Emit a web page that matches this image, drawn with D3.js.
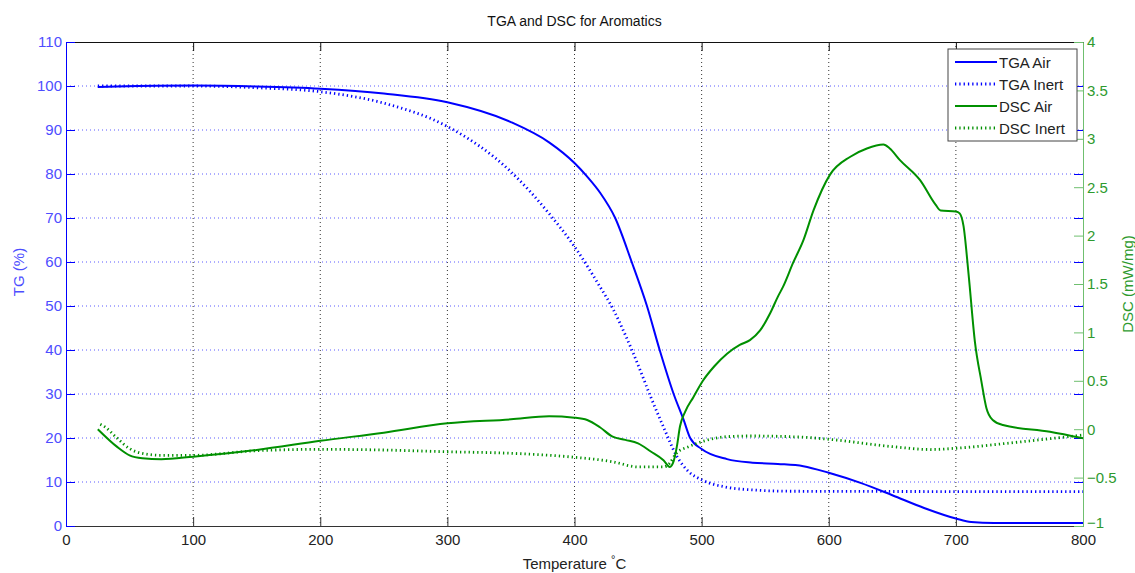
<!DOCTYPE html>
<html>
<head>
<meta charset="utf-8">
<script src="https://cdnjs.cloudflare.com/ajax/libs/d3/7.8.5/d3.min.js"></script>
<style>
  body { margin: 0; background: #fff; }
  svg text { font-family: "Liberation Sans", Arial, sans-serif; }
</style>
</head>
<body>
<div id="chart"></div>
<script>
// data (temperature in C)
var tgaAirT = [25, 40, 100, 150, 200, 250, 300, 350, 380, 400, 410, 420, 432, 445, 457, 467, 478, 486, 491, 500, 520, 540, 560, 580, 600, 625, 650, 675, 700, 712, 730, 800];
var tgaAirV = [99.8, 99.9, 100.1, 99.9, 99.4, 98.3, 96.3, 91.8, 87.2, 82.5, 79.4, 75.8, 70, 60, 50, 40, 30, 24, 20, 17.5, 15.2, 14.4, 14.1, 13.6, 12.1, 9.8, 7.0, 4.1, 1.7, 0.9, 0.7, 0.7];

var tgaInertT = [25, 100, 150, 200, 250, 300, 350, 380, 400, 420, 430, 440, 450, 460, 470, 480, 490, 500, 520, 540, 570, 800];
var tgaInertV = [100, 100, 99.6, 98.7, 96.1, 90.8, 80.5, 71, 63.5, 54.4, 49.5, 43.4, 36.6, 29.3, 22.5, 16.1, 12.3, 10.5, 8.8, 8.2, 7.9, 7.8];

var dscAirT = [25, 40, 50, 60, 75, 100, 150, 200, 250, 300, 350, 380, 400, 410, 420, 430, 440, 450, 460, 470, 475, 478, 480.5, 483, 487, 493.5, 501, 510, 520, 530, 538, 546, 554, 560, 564, 572, 580, 588, 601, 617, 630, 643, 648, 656, 672, 684, 688, 700, 703, 706, 710, 715, 720, 724, 729, 737, 774, 800];
var dscAirV = [0.0, -0.18, -0.27, -0.30, -0.31, -0.284, -0.215, -0.12, -0.036, 0.061, 0.102, 0.133, 0.119, 0.095, 0.02, -0.077, -0.11, -0.146, -0.23, -0.32, -0.39, -0.33, -0.18, 0.03, 0.18, 0.33, 0.5, 0.65, 0.78, 0.87, 0.92, 1.02, 1.2, 1.37, 1.47, 1.72, 1.95, 2.26, 2.63, 2.815, 2.9, 2.94, 2.9, 2.78, 2.57, 2.32, 2.26, 2.25, 2.23, 2.1, 1.6, 0.9, 0.5, 0.22, 0.095, 0.043, -0.026, -0.094];

var dscInertT = [27, 31, 40, 50, 60, 75, 100, 150, 200, 250, 300, 350, 400, 430, 450, 470, 475, 480, 490, 500, 520, 540, 580, 600, 650, 680, 700, 740, 770, 800];
var dscInertV = [0.05, 0.02, -0.09, -0.2, -0.25, -0.27, -0.27, -0.222, -0.208, -0.215, -0.233, -0.249, -0.29, -0.336, -0.39, -0.39, -0.35, -0.25, -0.18, -0.13, -0.077, -0.07, -0.083, -0.104, -0.18, -0.21, -0.197, -0.146, -0.104, -0.06];

var xTicks = [0, 100, 200, 300, 400, 500, 600, 700, 800];
var yLeftTicks = [0, 10, 20, 30, 40, 50, 60, 70, 80, 90, 100, 110];
var yRightTicks = [-1, -0.5, 0, 0.5, 1, 1.5, 2, 2.5, 3, 3.5, 4];
var legendNames = ["TGA Air", "TGA Inert", "DSC Air", "DSC Inert"];

var W = 1135, H = 573,
    m = { top: 42, right: 52, bottom: 47, left: 66 },
    iw = W - m.left - m.right,
    ih = H - m.top - m.bottom,
    blue = "#0000ff", green = "#009000",
    blueTxt = "#4d4dff", greenTxt = "#2e9a2e", greenAxis = "#6fbf6f",
    tickLen = 9;

var x = d3.scaleLinear().domain([0, 800]).range([0, iw]);
var yL = d3.scaleLinear().domain([0, 110]).range([ih, 0]);
var yR = d3.scaleLinear().domain([-1, 4]).range([ih, 0]);

var svg = d3.select("#chart").append("svg")
    .attr("width", W).attr("height", H);
var g = svg.append("g").attr("transform", "translate(" + m.left + "," + m.top + ")");

// grid
g.selectAll(".vgrid").data(xTicks.slice(1, -1)).enter().append("line")
    .attr("x1", function (d) { return x(d); }).attr("x2", function (d) { return x(d); })
    .attr("y1", 0).attr("y2", ih)
    .attr("stroke", "#333").attr("stroke-width", 1).attr("stroke-dasharray", "1,3");
g.selectAll(".hgrid").data(yLeftTicks.slice(1, -1)).enter().append("line")
    .attr("x1", 0).attr("x2", iw)
    .attr("y1", function (d) { return yL(d); }).attr("y2", function (d) { return yL(d); })
    .attr("stroke", "#5a5aff").attr("stroke-width", 1).attr("stroke-dasharray", "1,3");

// axes
var xAxis = g.append("g").attr("transform", "translate(0," + ih + ")")
    .call(d3.axisBottom(x).tickValues(xTicks).tickSize(-tickLen).tickPadding(8).tickFormat(d3.format("d")));
xAxis.select(".domain").attr("stroke", "#333");
xAxis.selectAll(".tick line").attr("stroke", "#333");
xAxis.selectAll("text").attr("fill", "#222").style("font-size", "15px");

var xTop = g.append("g")
    .call(d3.axisTop(x).tickValues(xTicks).tickSize(-tickLen).tickFormat(""));
xTop.select(".domain").attr("stroke", "#111");
xTop.selectAll(".tick line").attr("stroke", "#111");

var yAxisL = g.append("g")
    .call(d3.axisLeft(yL).tickValues(yLeftTicks).tickSize(-tickLen).tickPadding(4).tickFormat(d3.format("d")));
yAxisL.select(".domain").attr("stroke", blue);
yAxisL.selectAll(".tick line").attr("stroke", blue);
yAxisL.selectAll("text").attr("fill", blueTxt).style("font-size", "15px");

// left ticks repeated on right edge
g.append("g").attr("transform", "translate(" + iw + ",0)")
    .call(d3.axisRight(yL).tickValues(yLeftTicks).tickSize(-tickLen).tickFormat(""))
    .call(function (s) { s.select(".domain").remove(); s.selectAll(".tick line").attr("stroke", blue); });

var yAxisR = g.append("g").attr("transform", "translate(" + iw + ",0)")
    .call(d3.axisRight(yR).tickValues(yRightTicks).tickSize(-tickLen).tickPadding(4).tickFormat(d3.format("")));
yAxisR.select(".domain").attr("stroke", greenAxis);
yAxisR.selectAll(".tick line").attr("stroke", greenAxis);
yAxisR.selectAll("text").attr("fill", greenTxt).style("font-size", "15px")
    .filter(function (d) { return d === -1; }).attr("dy", "0.1em");

// lines
function series(ts, vs, y) {
    return d3.line().x(function (d, i) { return x(ts[i]); })
        .y(function (d, i) { return y(vs[i]); })
        .curve(d3.curveMonotoneX)(ts);
}
var lines = [
    { d: series(tgaAirT, tgaAirV, yL), c: blue, dash: null },
    { d: series(tgaInertT, tgaInertV, yL), c: blue, dash: "1.3,3" },
    { d: series(dscAirT, dscAirV, yR), c: green, dash: null },
    { d: series(dscInertT, dscInertV, yR), c: green, dash: "1.3,3" }
];
lines.forEach(function (l) {
    g.append("path").attr("d", l.d).attr("fill", "none")
        .attr("stroke", l.c).attr("stroke-width", l.dash ? 2.8 : 2)
        .attr("stroke-dasharray", l.dash);
});

// title and labels
svg.append("text").attr("x", m.left + iw / 2).attr("y", 26)
    .attr("text-anchor", "middle").style("font-size", "14px").attr("fill", "#111")
    .text("TGA and DSC for Aromatics");

var xl = svg.append("text").attr("x", m.left + iw / 2).attr("y", 569)
    .attr("text-anchor", "middle").style("font-size", "15px").attr("fill", "#222");
xl.append("tspan").text("Temperature ");
xl.append("tspan").attr("dy", -6).style("font-size", "11px").text("\u00b0");
xl.append("tspan").attr("dy", 6).text("C");

svg.append("text").attr("transform", "translate(24," + (m.top + ih / 2 - 12) + ") rotate(-90)")
    .attr("text-anchor", "middle").style("font-size", "15px").attr("fill", blueTxt)
    .text("TG (%)");
svg.append("text").attr("transform", "translate(1133," + (m.top + ih / 2) + ") rotate(-90)")
    .attr("text-anchor", "middle").style("font-size", "15px").attr("fill", greenTxt)
    .text("DSC (mW/mg)");

// legend
var lg = svg.append("g").attr("transform", "translate(948,49)");
lg.append("rect").attr("width", 129).attr("height", 92)
    .attr("fill", "#fff").attr("stroke", "#444").attr("stroke-width", 1);
legendNames.forEach(function (name, i) {
    var yy = 13 + i * 22;
    lg.append("line").attr("x1", 7).attr("x2", 49).attr("y1", yy).attr("y2", yy)
        .attr("stroke", lines[i].c).attr("stroke-width", lines[i].dash ? 2.8 : 2)
        .attr("stroke-dasharray", lines[i].dash);
    lg.append("text").attr("x", 51).attr("y", yy + 6)
        .style("font-size", "15px").attr("fill", "#222").text(name);
});
</script>
</body>
</html>
